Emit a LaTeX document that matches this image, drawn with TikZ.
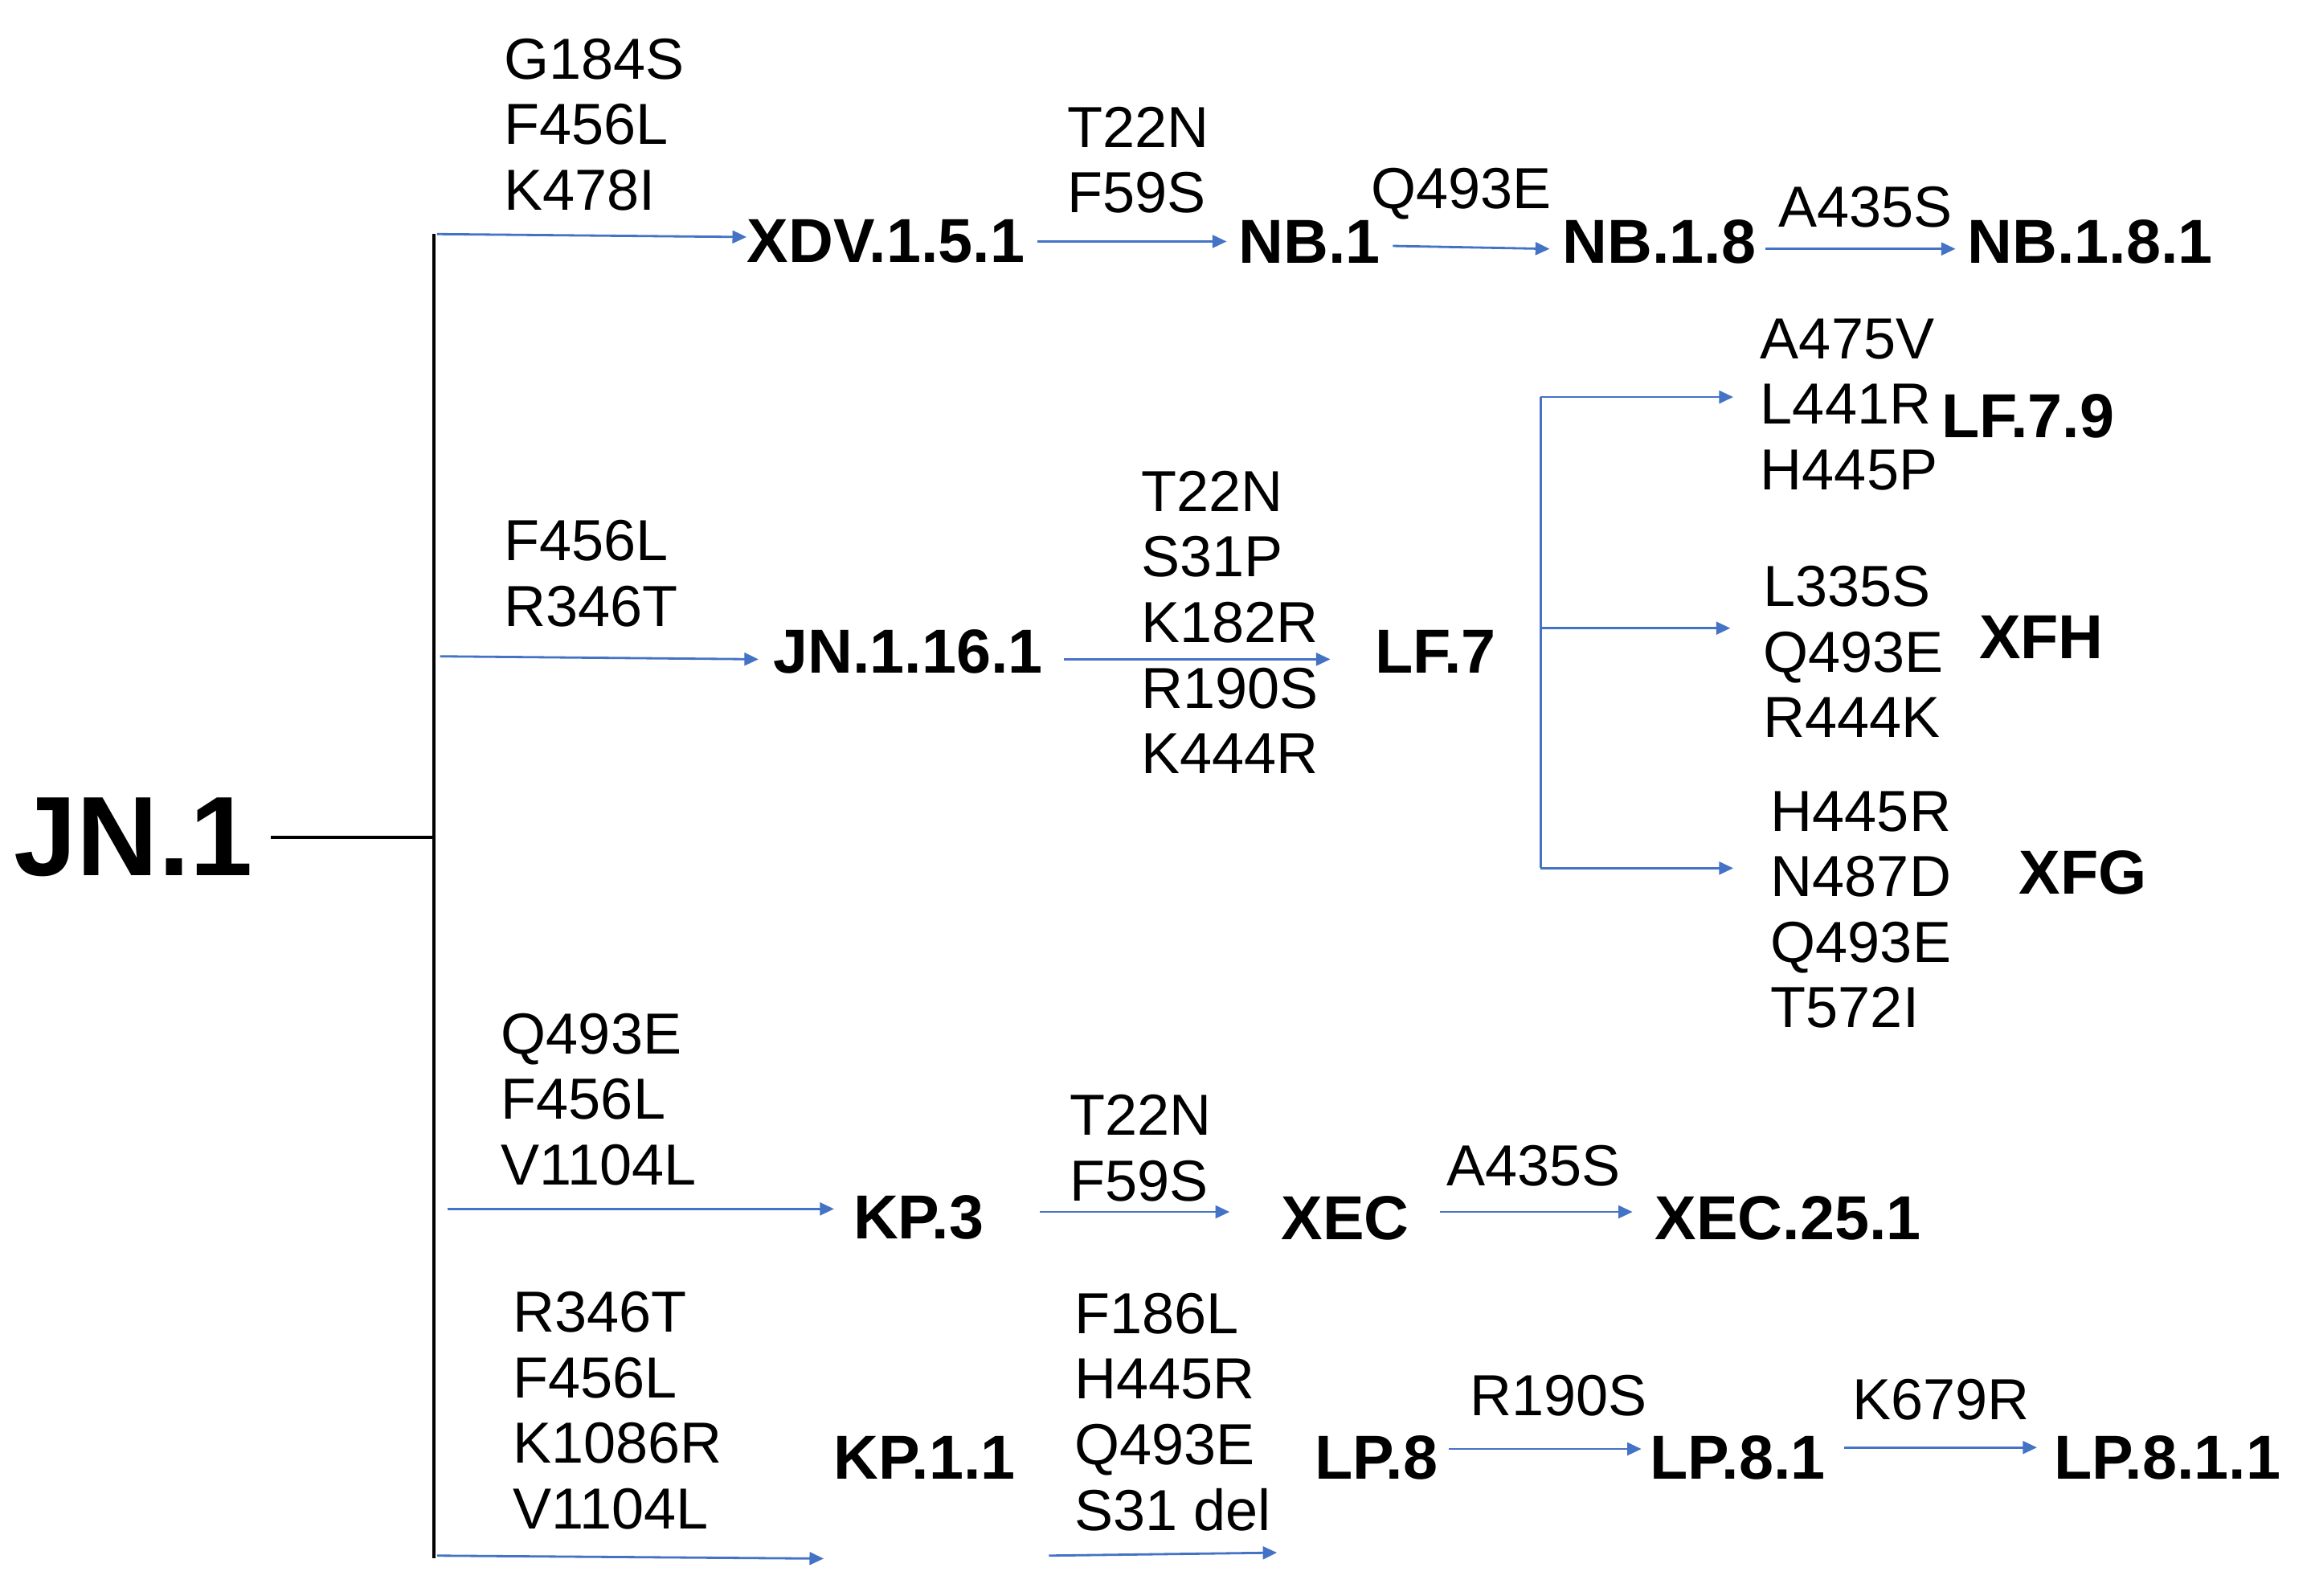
\documentclass[tikz,border=0pt]{standalone}
\usepackage{fontspec}
\setmainfont{Liberation Sans}
\usetikzlibrary{arrows.meta}
\begin{document}
\begin{tikzpicture}[x=0.18436mm,y=-0.18436mm,
 mut/.style={anchor=west,inner sep=0pt,align=left,font=\fontsize{20.5}{23.2}\selectfont},
 lin/.style={inner sep=0pt,font=\fontsize{22}{26}\selectfont\bfseries},
 arr/.style={draw={rgb,255:red,68;green,114;blue,196},line width=0.8pt,-{Triangle[length=5pt,width=4.5pt]}},
 blk/.style={draw=black,line width=1.2pt}]
\useasboundingbox (0,0) rectangle (1560,1077);
\node[inner sep=0pt,font=\fontsize{40}{44}\selectfont\bfseries] (jn1) at (90,565) {JN.1};
\coordinate (j0) at (183,565); \coordinate (j1) at (293,565);
\coordinate (vt) at (293,158); \coordinate (vb) at (293,1052);
\draw[blk] (j0) -- (j1); \draw[blk] (vt) -- (vb);
% branch 1
\node[mut] (m1) at (340,84) {G184S\\F456L\\K478I};
\node[lin] (xdv) at (598,163) {XDV.1.5.1};
\node[mut] (m2) at (720,108) {T22N\\F59S};
\node[lin] (nb1) at (884,163) {NB.1};
\node[mut] (m3) at (925,131) {Q493E};
\node[lin] (nb18) at (1120,163) {NB.1.8};
\node[mut] (m4) at (1200,140) {A435S};
\node[lin] (nb181) at (1411,163) {NB.1.8.1};
\draw[arr] (295,158) -- (xdv.west|-0,160);
\draw[arr] (xdv.east|-0,163) ++(8,0) -- (828,163);
\draw[arr] (nb1.east|-0,166) ++(8,0) -- (1046,168);
\draw[arr] (nb18.east|-0,168) ++(6,0) -- (1320,168);
% branch 2
\node[mut] (m5) at (340,387) {F456L\\R346T};
\node[lin] (jn116) at (613,440) {JN.1.16.1};
\node[mut] (m6) at (770,420) {T22N\\S31P\\K182R\\R190S\\K444R};
\node[lin] (lf7) at (969,440) {LF.7};
\coordinate (lt) at (1040,268); \coordinate (lm) at (1040,424); \coordinate (lb) at (1040,586);
\draw[arr,-] (lt) -- (lb);
\draw[arr] (lt) -- (1170,268);
\draw[arr] (lm) -- (1168,424);
\draw[arr] (lb) -- (1170,586);
\node[mut] (m7) at (1188,273) {A475V\\L441R\\H445P};
\node[lin] (lf79) at (1369,281) {LF.7.9};
\node[mut] (m8) at (1190,440) {L335S\\Q493E\\R444K};
\node[lin] (xfh) at (1378,430) {XFH};
\node[mut] (m9) at (1195,614) {H445R\\N487D\\Q493E\\T572I};
\node[lin] (xfg) at (1406,589) {XFG};
\draw[arr] (297,443) -- (512,445);
\draw[arr] (718,445) -- (898,445);
% branch 3
\node[mut] (m10) at (338,742) {Q493E\\F456L\\V1104L};
\node[lin] (kp3) at (620,822) {KP.3};
\node[mut] (m11) at (722,775) {T22N\\F59S};
\node[lin] (xec) at (908,822) {XEC};
\node[mut] (m12) at (976,787) {A435S};
\node[lin] (xec251) at (1207,822) {XEC.25.1};
\draw[arr] (302,816) -- (563,816);
\draw[arr] (702,818) -- (830,818);
\draw[arr] (972,818) -- (1102,818);
% branch 4
\node[mut] (m13) at (346,952) {R346T\\F456L\\K1086R\\V1104L};
\node[lin] (kp11) at (624,984) {KP.1.1};
\node[mut] (m14) at (725,953) {F186L\\H445R\\Q493E\\S31 del};
\node[lin] (lp8) at (929,984) {LP.8};
\node[mut] (m15) at (992,942) {R190S};
\node[lin] (lp81) at (1173,984) {LP.8.1};
\node[mut] (m16) at (1250,945) {K679R};
\node[lin] (lp811) at (1463,984) {LP.8.1.1};
\draw[arr] (295,1050) -- (556,1052);
\draw[arr] (708,1050) -- (862,1048);
\draw[arr] (978,978) -- (1108,978);
\draw[arr] (1245,977) -- (1375,977);
\end{tikzpicture}
\end{document}
